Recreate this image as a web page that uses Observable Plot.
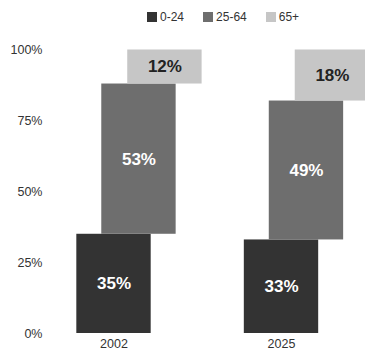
<!DOCTYPE html>
<html>
<head>
<meta charset="utf-8">
<script src="https://cdn.jsdelivr.net/npm/d3@7"></script>
<script src="https://cdn.jsdelivr.net/npm/@observablehq/plot@0.6"></script>
<style>
  html, body { margin: 0; padding: 0; background: #fff; }
  body { width: 365px; height: 352px; overflow: hidden; font-family: "Liberation Sans", Arial, sans-serif; }
  #legend { height: 34px; display: flex; align-items: center; gap: 19px; padding-left: 147px; box-sizing: border-box; font-size: 12px; color: #333; }
  #legend .item { display: flex; align-items: center; gap: 3px; }
  #legend .sw { width: 10px; height: 10px; display: inline-block; }
  #chart svg { display: block; }
</style>
</head>
<body>
<div id="legend"></div>
<div id="chart"></div>
<script>
const years = ["2002", "2025"];
const groups = ["0-24", "25-64", "65+"];
const share2002 = [0.35, 0.53, 0.12];
const share2025 = [0.33, 0.49, 0.18];
const yTicks = [0, 0.25, 0.5, 0.75, 1];

const colors = ["#333333", "#6e6e6e", "#c6c6c6"];
const labelColors = ["#ffffff", "#ffffff", "#222222"];
const offsets = [0, 0.149, 0.304];
const halfWidth = 0.222;

const series = [share2002, share2025];
const rows = [];
years.forEach((yr, i) => {
  let acc = 0;
  series[i].forEach((v, j) => {
    rows.push({year: yr, group: groups[j], j, xc: i + offsets[j], y1: acc, y2: acc + v, value: v});
    acc += v;
  });
});

// legend
const legend = document.getElementById("legend");
groups.forEach((g, j) => {
  const it = document.createElement("span");
  it.className = "item";
  const sw = document.createElement("span");
  sw.className = "sw";
  sw.style.background = colors[j];
  const t = document.createElement("span");
  t.textContent = g;
  it.appendChild(sw); it.appendChild(t);
  legend.appendChild(it);
});

const pct = d3.format(".0%");
const chart = Plot.plot({
  width: 365,
  height: 318,
  marginLeft: 45,
  marginRight: 0,
  marginTop: 0,
  marginBottom: 19,
  style: {fontFamily: "Liberation Sans, Arial, sans-serif", background: "#fff"},
  x: {type: "linear", domain: [0, 1], range: [113.5, 281]},
  y: {domain: [0, 1], range: [299, 15.5]},
  color: {domain: groups, range: colors},
  marks: [
    Plot.rect(rows, {
      x1: d => d.xc - halfWidth,
      x2: d => d.xc + halfWidth,
      y1: "y1",
      y2: "y2",
      fill: "group"
    }),
    Plot.text(rows, {
      x: "xc",
      y: d => (d.y1 + d.y2) / 2,
      text: d => pct(d.value),
      fill: d => labelColors[d.j],
      fontSize: 17,
      fontWeight: "bold"
    }),
    Plot.axisY({ticks: yTicks, tickFormat: pct, tickSize: 0, tickPadding: 3, fontSize: 12.5, color: "#333", label: null}),
    Plot.axisX({ticks: [0, 1], tickFormat: i => years[i], tickSize: 0, tickPadding: 6, fontSize: 12.5, color: "#333", label: null})
  ]
});
document.getElementById("chart").appendChild(chart);
</script>
</body>
</html>
